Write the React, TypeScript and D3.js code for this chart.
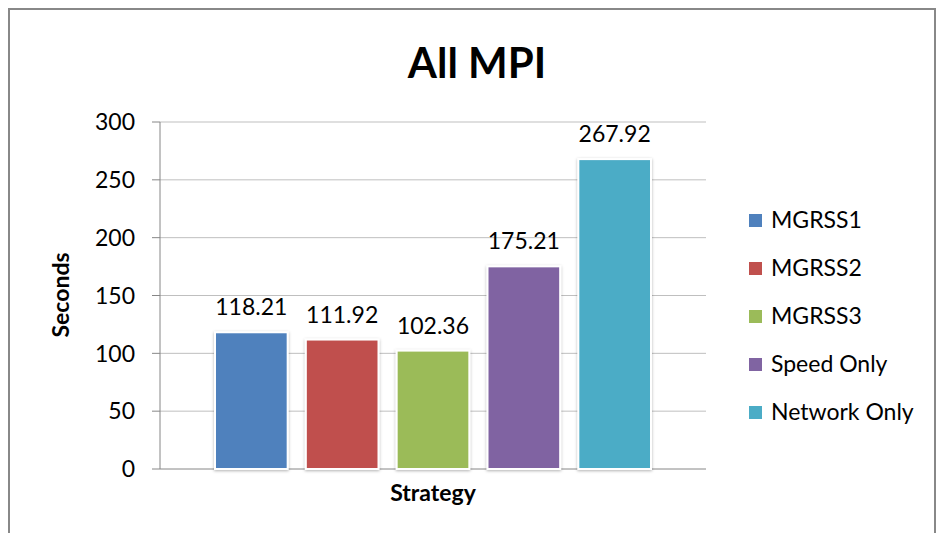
import React from "react";
import * as d3 from "d3";

const series = ["MGRSS1", "MGRSS2", "MGRSS3", "Speed Only", "Network Only"];
const values = [118.21, 111.92, 102.36, 175.21, 267.92];
const colors = ["#4f81bd", "#c0504d", "#9bbb59", "#8064a2", "#4bacc6"];
const yTicks = [0, 50, 100, 150, 200, 250, 300];

const W = 937, H = 533;
const plotL = 160, plotR = 706, plotT = 122, plotB = 469;
const font = "Lato, 'Liberation Sans', sans-serif";

export default function App() {
  const y = d3.scaleLinear().domain([0, 300]).range([plotB, plotT]);
  const x = d3.scaleBand<string>().domain(series).range([plotL + 55, plotR - 55]).paddingInner(0.2).paddingOuter(0);
  return (
    <svg width={W} height={H} style={{ position: "absolute", left: 0, top: 0, background: "#fff" }}>
      <defs>
        <filter id="sh" x="-20%" y="-20%" width="140%" height="140%">
          <feDropShadow dx="0" dy="1" stdDeviation="1.5" floodColor="#000" floodOpacity="0.3" />
        </filter>
      </defs>
      <rect x={9} y={9} width={926} height={540} fill="#fff" stroke="#888" strokeWidth={2} />
      <text x={477} y={78} textAnchor="middle" fontFamily={font} fontWeight="bold" fontSize={42} fill="#000">All MPI</text>
      {yTicks.map(t => (
        <g key={t}>
          {t > 0 && <line x1={plotL} x2={plotR} y1={y(t)} y2={y(t)} stroke="#bfbfbf" strokeWidth={1} />}
          <line x1={152} x2={plotL} y1={y(t)} y2={y(t)} stroke="#868686" strokeWidth={1} />
          <text x={135} y={y(t)} dy="0.36em" textAnchor="end" fontFamily={font} fontSize={23} fill="#000">{t}</text>
        </g>
      ))}
      <line x1={plotL} x2={plotR} y1={plotB} y2={plotB} stroke="#868686" strokeWidth={1} />
      <line x1={plotL} x2={plotL} y1={plotT} y2={plotB} stroke="#868686" strokeWidth={1} />
      {series.map((s, i) => (
        <g key={s}>
          <rect x={x(s)} y={y(values[i])} width={x.bandwidth()} height={plotB - y(values[i])}
            fill={colors[i]} stroke="#fff" strokeWidth={2} filter="url(#sh)" />
          <text x={(x(s) as number) + x.bandwidth() / 2} y={y(values[i]) - 17} textAnchor="middle"
            fontFamily={font} fontSize={23} fill="#000">{values[i].toFixed(2)}</text>
        </g>
      ))}
      <text x={433} y={501} textAnchor="middle" fontFamily={font} fontWeight="bold" fontSize={23} fill="#000">Strategy</text>
      <text transform={`translate(69,295) rotate(-90)`} textAnchor="middle" fontFamily={font} fontWeight="bold" fontSize={23} fill="#000">Seconds</text>
      {series.map((s, i) => (
        <g key={s} transform={`translate(749, ${220 + i * 48})`}>
          <rect x={0} y={-6} width={13} height={13} fill={colors[i]} />
          <text x={22} y={0} dy="0.36em" fontFamily={font} fontSize={23} fill="#000">{s}</text>
        </g>
      ))}
    </svg>
  );
}
